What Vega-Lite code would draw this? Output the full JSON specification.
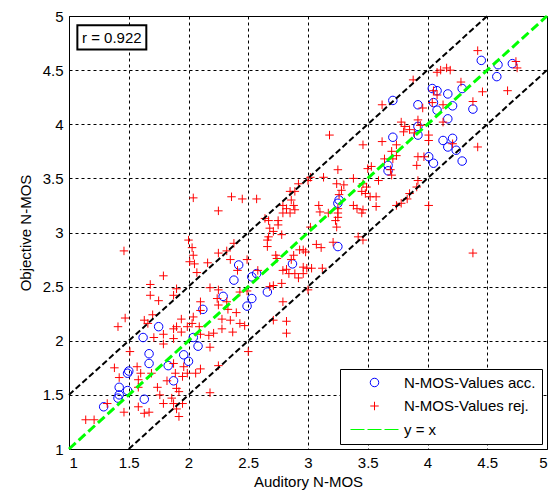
{
  "$schema": "https://vega.github.io/schema/vega-lite/v6.json",
  "width": 478,
  "height": 433,
  "autosize": {"type": "none"},
  "padding": {"left": 69, "top": 16, "right": 7, "bottom": 43},
  "background": "white",
  "datasets": {
    "pts": [
      {"x":1.29,"y":1.39,"s":"N-MOS-Values acc."},{"x":1.41,"y":1.47,"s":"N-MOS-Values acc."},{"x":1.42,"y":1.50,"s":"N-MOS-Values acc."},{"x":1.42,"y":1.57,"s":"N-MOS-Values acc."},{"x":1.49,"y":1.54,"s":"N-MOS-Values acc."},{"x":1.49,"y":1.70,"s":"N-MOS-Values acc."},{"x":1.50,"y":1.72,"s":"N-MOS-Values acc."},{"x":1.63,"y":1.46,"s":"N-MOS-Values acc."},{"x":1.62,"y":2.03,"s":"N-MOS-Values acc."},{"x":1.67,"y":1.88,"s":"N-MOS-Values acc."},{"x":1.67,"y":1.79,"s":"N-MOS-Values acc."},{"x":1.75,"y":2.13,"s":"N-MOS-Values acc."},{"x":1.83,"y":1.77,"s":"N-MOS-Values acc."},{"x":1.875,"y":1.63,"s":"N-MOS-Values acc."},{"x":1.96,"y":1.87,"s":"N-MOS-Values acc."},{"x":2.00,"y":1.81,"s":"N-MOS-Values acc."},{"x":2.04,"y":2.03,"s":"N-MOS-Values acc."},{"x":2.08,"y":1.95,"s":"N-MOS-Values acc."},{"x":2.12,"y":2.29,"s":"N-MOS-Values acc."},{"x":2.29,"y":2.41,"s":"N-MOS-Values acc."},{"x":2.38,"y":2.56,"s":"N-MOS-Values acc."},{"x":2.42,"y":2.70,"s":"N-MOS-Values acc."},{"x":2.49,"y":2.32,"s":"N-MOS-Values acc."},{"x":2.53,"y":2.39,"s":"N-MOS-Values acc."},{"x":2.53,"y":2.59,"s":"N-MOS-Values acc."},{"x":2.57,"y":2.62,"s":"N-MOS-Values acc."},{"x":2.66,"y":2.45,"s":"N-MOS-Values acc."},{"x":2.87,"y":2.71,"s":"N-MOS-Values acc."},{"x":3.25,"y":2.87,"s":"N-MOS-Values acc."},{"x":3.25,"y":3.27,"s":"N-MOS-Values acc."},{"x":3.26,"y":3.30,"s":"N-MOS-Values acc."},{"x":3.67,"y":3.57,"s":"N-MOS-Values acc."},{"x":3.67,"y":3.62,"s":"N-MOS-Values acc."},{"x":3.71,"y":3.88,"s":"N-MOS-Values acc."},{"x":3.92,"y":3.90,"s":"N-MOS-Values acc."},{"x":3.92,"y":3.98,"s":"N-MOS-Values acc."},{"x":3.71,"y":4.22,"s":"N-MOS-Values acc."},{"x":3.92,"y":4.18,"s":"N-MOS-Values acc."},{"x":4.01,"y":3.70,"s":"N-MOS-Values acc."},{"x":4.05,"y":3.64,"s":"N-MOS-Values acc."},{"x":4.04,"y":4.33,"s":"N-MOS-Values acc."},{"x":4.08,"y":4.31,"s":"N-MOS-Values acc."},{"x":4.05,"y":4.20,"s":"N-MOS-Values acc."},{"x":4.08,"y":4.13,"s":"N-MOS-Values acc."},{"x":4.17,"y":4.28,"s":"N-MOS-Values acc."},{"x":4.29,"y":4.33,"s":"N-MOS-Values acc."},{"x":4.21,"y":4.17,"s":"N-MOS-Values acc."},{"x":4.38,"y":4.14,"s":"N-MOS-Values acc."},{"x":4.17,"y":4.05,"s":"N-MOS-Values acc."},{"x":4.13,"y":3.85,"s":"N-MOS-Values acc."},{"x":4.21,"y":3.87,"s":"N-MOS-Values acc."},{"x":4.17,"y":3.79,"s":"N-MOS-Values acc."},{"x":4.24,"y":3.76,"s":"N-MOS-Values acc."},{"x":4.29,"y":3.66,"s":"N-MOS-Values acc."},{"x":4.45,"y":4.59,"s":"N-MOS-Values acc."},{"x":4.59,"y":4.55,"s":"N-MOS-Values acc."},{"x":4.58,"y":4.44,"s":"N-MOS-Values acc."},{"x":4.71,"y":4.56,"s":"N-MOS-Values acc."},
      {"x":1.14,"y":1.27,"s":"N-MOS-Values rej."},{"x":1.21,"y":1.27,"s":"N-MOS-Values rej."},{"x":1.32,"y":1.42,"s":"N-MOS-Values rej."},{"x":1.38,"y":1.75,"s":"N-MOS-Values rej."},{"x":1.41,"y":2.13,"s":"N-MOS-Values rej."},{"x":1.47,"y":2.21,"s":"N-MOS-Values rej."},{"x":1.46,"y":2.83,"s":"N-MOS-Values rej."},{"x":1.46,"y":1.34,"s":"N-MOS-Values rej."},{"x":1.51,"y":1.90,"s":"N-MOS-Values rej."},{"x":1.42,"y":1.66,"s":"N-MOS-Values rej."},{"x":1.57,"y":1.76,"s":"N-MOS-Values rej."},{"x":1.60,"y":1.70,"s":"N-MOS-Values rej."},{"x":1.58,"y":1.64,"s":"N-MOS-Values rej."},{"x":1.58,"y":1.57,"s":"N-MOS-Values rej."},{"x":1.58,"y":1.39,"s":"N-MOS-Values rej."},{"x":1.63,"y":1.33,"s":"N-MOS-Values rej."},{"x":1.67,"y":1.34,"s":"N-MOS-Values rej."},{"x":1.68,"y":2.52,"s":"N-MOS-Values rej."},{"x":1.68,"y":2.42,"s":"N-MOS-Values rej."},{"x":1.63,"y":2.19,"s":"N-MOS-Values rej."},{"x":1.66,"y":2.16,"s":"N-MOS-Values rej."},{"x":1.70,"y":2.24,"s":"N-MOS-Values rej."},{"x":1.75,"y":2.37,"s":"N-MOS-Values rej."},{"x":1.79,"y":2.60,"s":"N-MOS-Values rej."},{"x":1.79,"y":2.06,"s":"N-MOS-Values rej."},{"x":1.79,"y":1.97,"s":"N-MOS-Values rej."},{"x":1.71,"y":2.03,"s":"N-MOS-Values rej."},{"x":1.69,"y":1.70,"s":"N-MOS-Values rej."},{"x":1.74,"y":1.57,"s":"N-MOS-Values rej."},{"x":1.76,"y":1.50,"s":"N-MOS-Values rej."},{"x":1.79,"y":1.42,"s":"N-MOS-Values rej."},{"x":1.82,"y":1.63,"s":"N-MOS-Values rej."},{"x":1.875,"y":2.42,"s":"N-MOS-Values rej."},{"x":1.90,"y":2.48,"s":"N-MOS-Values rej."},{"x":1.875,"y":2.11,"s":"N-MOS-Values rej."},{"x":1.90,"y":2.13,"s":"N-MOS-Values rej."},{"x":1.875,"y":2.02,"s":"N-MOS-Values rej."},{"x":1.875,"y":1.79,"s":"N-MOS-Values rej."},{"x":1.89,"y":1.70,"s":"N-MOS-Values rej."},{"x":1.90,"y":1.56,"s":"N-MOS-Values rej."},{"x":1.86,"y":1.47,"s":"N-MOS-Values rej."},{"x":1.875,"y":1.42,"s":"N-MOS-Values rej."},{"x":1.94,"y":2.20,"s":"N-MOS-Values rej."},{"x":1.94,"y":2.08,"s":"N-MOS-Values rej."},{"x":1.99,"y":2.13,"s":"N-MOS-Values rej."},{"x":1.95,"y":1.67,"s":"N-MOS-Values rej."},{"x":1.99,"y":1.70,"s":"N-MOS-Values rej."},{"x":1.96,"y":1.76,"s":"N-MOS-Values rej."},{"x":1.95,"y":1.42,"s":"N-MOS-Values rej."},{"x":1.92,"y":1.53,"s":"N-MOS-Values rej."},{"x":1.90,"y":1.37,"s":"N-MOS-Values rej."},{"x":1.92,"y":1.30,"s":"N-MOS-Values rej."},
      {"x":2.00,"y":2.93,"s":"N-MOS-Values rej."},{"x":2.03,"y":2.86,"s":"N-MOS-Values rej."},{"x":2.04,"y":2.79,"s":"N-MOS-Values rej."},{"x":2.01,"y":2.73,"s":"N-MOS-Values rej."},{"x":2.05,"y":2.71,"s":"N-MOS-Values rej."},{"x":2.04,"y":2.22,"s":"N-MOS-Values rej."},{"x":2.03,"y":2.16,"s":"N-MOS-Values rej."},{"x":2.07,"y":2.63,"s":"N-MOS-Values rej."},{"x":2.10,"y":2.28,"s":"N-MOS-Values rej."},{"x":2.10,"y":2.36,"s":"N-MOS-Values rej."},{"x":2.09,"y":2.13,"s":"N-MOS-Values rej."},{"x":2.10,"y":2.06,"s":"N-MOS-Values rej."},{"x":2.10,"y":1.74,"s":"N-MOS-Values rej."},{"x":2.17,"y":2.05,"s":"N-MOS-Values rej."},{"x":2.18,"y":1.94,"s":"N-MOS-Values rej."},{"x":2.16,"y":2.72,"s":"N-MOS-Values rej."},{"x":2.18,"y":1.52,"s":"N-MOS-Values rej."},{"x":2.18,"y":2.49,"s":"N-MOS-Values rej."},{"x":2.25,"y":2.81,"s":"N-MOS-Values rej."},{"x":2.25,"y":1.77,"s":"N-MOS-Values rej."},{"x":2.28,"y":2.11,"s":"N-MOS-Values rej."},{"x":2.28,"y":2.20,"s":"N-MOS-Values rej."},{"x":2.32,"y":2.83,"s":"N-MOS-Values rej."},{"x":2.35,"y":2.75,"s":"N-MOS-Values rej."},{"x":2.33,"y":2.29,"s":"N-MOS-Values rej."},{"x":2.35,"y":2.19,"s":"N-MOS-Values rej."},{"x":2.37,"y":2.08,"s":"N-MOS-Values rej."},{"x":2.41,"y":2.65,"s":"N-MOS-Values rej."},{"x":2.43,"y":2.45,"s":"N-MOS-Values rej."},{"x":2.40,"y":2.26,"s":"N-MOS-Values rej."},{"x":2.43,"y":2.16,"s":"N-MOS-Values rej."},{"x":2.47,"y":2.14,"s":"N-MOS-Values rej."},{"x":2.49,"y":2.75,"s":"N-MOS-Values rej."},{"x":2.50,"y":1.90,"s":"N-MOS-Values rej."},{"x":2.49,"y":2.46,"s":"N-MOS-Values rej."},{"x":2.04,"y":3.32,"s":"N-MOS-Values rej."},{"x":2.25,"y":3.20,"s":"N-MOS-Values rej."},{"x":2.36,"y":3.33,"s":"N-MOS-Values rej."},{"x":2.45,"y":3.31,"s":"N-MOS-Values rej."},{"x":2.38,"y":2.90,"s":"N-MOS-Values rej."},{"x":2.25,"y":2.33,"s":"N-MOS-Values rej."},{"x":2.24,"y":2.39,"s":"N-MOS-Values rej."},{"x":2.25,"y":2.47,"s":"N-MOS-Values rej."},{"x":2.32,"y":2.36,"s":"N-MOS-Values rej."},{"x":2.21,"y":2.07,"s":"N-MOS-Values rej."},{"x":2.06,"y":1.70,"s":"N-MOS-Values rej."},
      {"x":2.57,"y":3.31,"s":"N-MOS-Values rej."},{"x":2.58,"y":2.65,"s":"N-MOS-Values rej."},{"x":2.66,"y":2.87,"s":"N-MOS-Values rej."},{"x":2.66,"y":2.93,"s":"N-MOS-Values rej."},{"x":2.71,"y":2.51,"s":"N-MOS-Values rej."},{"x":2.68,"y":2.50,"s":"N-MOS-Values rej."},{"x":2.78,"y":2.53,"s":"N-MOS-Values rej."},{"x":2.78,"y":2.98,"s":"N-MOS-Values rej."},{"x":2.73,"y":2.79,"s":"N-MOS-Values rej."},{"x":2.74,"y":2.76,"s":"N-MOS-Values rej."},{"x":2.79,"y":2.65,"s":"N-MOS-Values rej."},{"x":2.82,"y":2.66,"s":"N-MOS-Values rej."},{"x":2.84,"y":2.62,"s":"N-MOS-Values rej."},{"x":2.86,"y":2.75,"s":"N-MOS-Values rej."},{"x":2.88,"y":2.79,"s":"N-MOS-Values rej."},{"x":2.96,"y":2.84,"s":"N-MOS-Values rej."},{"x":2.98,"y":2.82,"s":"N-MOS-Values rej."},{"x":2.93,"y":2.84,"s":"N-MOS-Values rej."},{"x":2.96,"y":2.68,"s":"N-MOS-Values rej."},{"x":2.99,"y":2.67,"s":"N-MOS-Values rej."},{"x":2.96,"y":2.62,"s":"N-MOS-Values rej."},{"x":2.89,"y":2.62,"s":"N-MOS-Values rej."},{"x":2.92,"y":2.58,"s":"N-MOS-Values rej."},{"x":2.79,"y":2.36,"s":"N-MOS-Values rej."},{"x":2.71,"y":2.19,"s":"N-MOS-Values rej."},{"x":2.82,"y":2.18,"s":"N-MOS-Values rej."},{"x":2.82,"y":2.07,"s":"N-MOS-Values rej."},{"x":3.00,"y":2.47,"s":"N-MOS-Values rej."},{"x":2.67,"y":3.11,"s":"N-MOS-Values rej."},{"x":2.64,"y":3.13,"s":"N-MOS-Values rej."},{"x":2.75,"y":3.11,"s":"N-MOS-Values rej."},{"x":2.68,"y":3.04,"s":"N-MOS-Values rej."},{"x":2.71,"y":3.01,"s":"N-MOS-Values rej."},{"x":2.67,"y":2.96,"s":"N-MOS-Values rej."},{"x":2.75,"y":3.07,"s":"N-MOS-Values rej."},{"x":2.79,"y":3.18,"s":"N-MOS-Values rej."},{"x":2.82,"y":3.22,"s":"N-MOS-Values rej."},{"x":2.79,"y":3.25,"s":"N-MOS-Values rej."},{"x":2.86,"y":3.30,"s":"N-MOS-Values rej."},{"x":2.88,"y":3.25,"s":"N-MOS-Values rej."},{"x":2.85,"y":3.18,"s":"N-MOS-Values rej."},{"x":2.85,"y":3.38,"s":"N-MOS-Values rej."},{"x":2.89,"y":3.38,"s":"N-MOS-Values rej."},{"x":2.92,"y":3.45,"s":"N-MOS-Values rej."},{"x":2.89,"y":3.21,"s":"N-MOS-Values rej."},{"x":3.00,"y":3.48,"s":"N-MOS-Values rej."},
      {"x":3.03,"y":2.67,"s":"N-MOS-Values rej."},{"x":3.07,"y":2.89,"s":"N-MOS-Values rej."},{"x":3.11,"y":2.86,"s":"N-MOS-Values rej."},{"x":3.12,"y":2.67,"s":"N-MOS-Values rej."},{"x":3.46,"y":2.93,"s":"N-MOS-Values rej."},{"x":3.42,"y":2.96,"s":"N-MOS-Values rej."},{"x":3.21,"y":2.91,"s":"N-MOS-Values rej."},{"x":3.18,"y":3.90,"s":"N-MOS-Values rej."},{"x":3.02,"y":3.51,"s":"N-MOS-Values rej."},{"x":3.13,"y":3.51,"s":"N-MOS-Values rej."},{"x":3.25,"y":3.58,"s":"N-MOS-Values rej."},{"x":3.24,"y":3.45,"s":"N-MOS-Values rej."},{"x":3.30,"y":3.44,"s":"N-MOS-Values rej."},{"x":3.28,"y":3.39,"s":"N-MOS-Values rej."},{"x":3.26,"y":3.35,"s":"N-MOS-Values rej."},{"x":3.09,"y":3.25,"s":"N-MOS-Values rej."},{"x":3.10,"y":3.19,"s":"N-MOS-Values rej."},{"x":3.17,"y":3.18,"s":"N-MOS-Values rej."},{"x":3.02,"y":3.05,"s":"N-MOS-Values rej."},{"x":3.23,"y":3.11,"s":"N-MOS-Values rej."},{"x":3.24,"y":3.05,"s":"N-MOS-Values rej."},{"x":3.25,"y":3.22,"s":"N-MOS-Values rej."},{"x":3.25,"y":3.18,"s":"N-MOS-Values rej."},{"x":3.25,"y":3.14,"s":"N-MOS-Values rej."},{"x":3.38,"y":3.50,"s":"N-MOS-Values rej."},{"x":3.38,"y":3.25,"s":"N-MOS-Values rej."},{"x":3.41,"y":3.22,"s":"N-MOS-Values rej."},{"x":3.46,"y":3.21,"s":"N-MOS-Values rej."},{"x":3.45,"y":3.18,"s":"N-MOS-Values rej."},{"x":3.46,"y":3.45,"s":"N-MOS-Values rej."},{"x":3.49,"y":3.42,"s":"N-MOS-Values rej."},{"x":3.45,"y":3.38,"s":"N-MOS-Values rej."},{"x":3.48,"y":3.36,"s":"N-MOS-Values rej."},{"x":3.46,"y":3.81,"s":"N-MOS-Values rej."},
      {"x":3.52,"y":3.33,"s":"N-MOS-Values rej."},{"x":3.57,"y":3.33,"s":"N-MOS-Values rej."},{"x":3.59,"y":3.48,"s":"N-MOS-Values rej."},{"x":3.57,"y":3.24,"s":"N-MOS-Values rej."},{"x":3.53,"y":3.61,"s":"N-MOS-Values rej."},{"x":3.50,"y":3.59,"s":"N-MOS-Values rej."},{"x":3.62,"y":3.84,"s":"N-MOS-Values rej."},{"x":3.62,"y":4.18,"s":"N-MOS-Values rej."},{"x":3.64,"y":3.68,"s":"N-MOS-Values rej."},{"x":3.70,"y":3.75,"s":"N-MOS-Values rej."},{"x":3.74,"y":3.71,"s":"N-MOS-Values rej."},{"x":3.71,"y":3.68,"s":"N-MOS-Values rej."},{"x":3.69,"y":3.58,"s":"N-MOS-Values rej."},{"x":3.70,"y":3.53,"s":"N-MOS-Values rej."},{"x":3.74,"y":3.81,"s":"N-MOS-Values rej."},{"x":3.74,"y":3.25,"s":"N-MOS-Values rej."},{"x":3.78,"y":3.27,"s":"N-MOS-Values rej."},{"x":3.83,"y":3.31,"s":"N-MOS-Values rej."},{"x":3.85,"y":3.36,"s":"N-MOS-Values rej."},{"x":3.91,"y":3.42,"s":"N-MOS-Values rej."},{"x":3.92,"y":3.48,"s":"N-MOS-Values rej."},{"x":3.78,"y":4.02,"s":"N-MOS-Values rej."},{"x":3.81,"y":3.98,"s":"N-MOS-Values rej."},{"x":3.80,"y":3.93,"s":"N-MOS-Values rej."},{"x":3.85,"y":3.95,"s":"N-MOS-Values rej."},{"x":3.92,"y":4.04,"s":"N-MOS-Values rej."},{"x":3.94,"y":3.99,"s":"N-MOS-Values rej."},{"x":3.89,"y":3.92,"s":"N-MOS-Values rej."},{"x":3.88,"y":4.41,"s":"N-MOS-Values rej."},{"x":3.96,"y":4.15,"s":"N-MOS-Values rej."},{"x":3.92,"y":3.70,"s":"N-MOS-Values rej."},{"x":3.91,"y":3.62,"s":"N-MOS-Values rej."},{"x":3.97,"y":3.70,"s":"N-MOS-Values rej."},
      {"x":4.01,"y":3.90,"s":"N-MOS-Values rej."},{"x":4.01,"y":3.85,"s":"N-MOS-Values rej."},{"x":4.01,"y":3.25,"s":"N-MOS-Values rej."},{"x":4.05,"y":4.31,"s":"N-MOS-Values rej."},{"x":4.08,"y":4.27,"s":"N-MOS-Values rej."},{"x":4.04,"y":4.20,"s":"N-MOS-Values rej."},{"x":4.08,"y":4.48,"s":"N-MOS-Values rej."},{"x":4.11,"y":4.50,"s":"N-MOS-Values rej."},{"x":4.16,"y":4.52,"s":"N-MOS-Values rej."},{"x":4.19,"y":4.50,"s":"N-MOS-Values rej."},{"x":4.13,"y":4.18,"s":"N-MOS-Values rej."},{"x":4.13,"y":4.02,"s":"N-MOS-Values rej."},{"x":4.21,"y":3.82,"s":"N-MOS-Values rej."},{"x":4.28,"y":4.39,"s":"N-MOS-Values rej."},{"x":4.38,"y":4.21,"s":"N-MOS-Values rej."},{"x":4.42,"y":4.68,"s":"N-MOS-Values rej."},{"x":4.46,"y":4.30,"s":"N-MOS-Values rej."},{"x":4.42,"y":3.79,"s":"N-MOS-Values rej."},{"x":4.38,"y":2.81,"s":"N-MOS-Values rej."},{"x":4.67,"y":4.31,"s":"N-MOS-Values rej."},{"x":4.74,"y":4.58,"s":"N-MOS-Values rej."},{"x":4.75,"y":4.52,"s":"N-MOS-Values rej."}
    ],
    "bounds": [
      {"x":1,"y":1.5,"g":"upper"},{"x":4.5,"y":5,"g":"upper"},
      {"x":1.5,"y":1,"g":"lower"},{"x":5,"y":4.5,"g":"lower"}
    ],
    "ident": [
      {"x":1,"y":1},{"x":5,"y":5}
    ],
    "note": [
      {"label":"r = 0.922"}
    ]
  },
  "layer": [
    {
      "data": {"name": "pts"},
      "mark": {"type": "point", "filled": false, "size": 72, "opacity": 1},
      "encoding": {
        "x": {"field": "x", "type": "quantitative", "scale": {"domain": [1, 5], "nice": false, "zero": false}, "axis": {"title": "Auditory N-MOS", "values": [1,1.5,2,2.5,3,3.5,4,4.5,5], "format": "~g", "titlePadding": 4}},
        "y": {"field": "y", "type": "quantitative", "scale": {"domain": [1, 5], "nice": false, "zero": false}, "axis": {"title": "Objective N-MOS", "values": [1,1.5,2,2.5,3,3.5,4,4.5,5], "format": "~g", "titlePadding": 9}},
        "color": {"field": "s", "type": "nominal", "scale": {"domain": ["N-MOS-Values acc.", "N-MOS-Values rej.", "y = x"], "range": ["#0000ff", "#ff0000", "#00ff00"]}},
        "shape": {"field": "s", "type": "nominal", "scale": {"domain": ["N-MOS-Values acc.", "N-MOS-Values rej.", "y = x"], "range": ["circle", "M-1,0L1,0M0,-1L0,1", "M-5.66,0L-2.36,0M-1.65,0L1.65,0M2.36,0L5.66,0"]}},
        "strokeWidth": {"field": "s", "type": "nominal", "scale": {"domain": ["N-MOS-Values acc.", "N-MOS-Values rej.", "y = x"], "range": [1, 1, 3]}}
      }
    },
    {
      "data": {"name": "ident"},
      "mark": {"type": "line", "color": "#00ff00", "strokeWidth": 3, "strokeDash": [9, 4]},
      "encoding": {
        "x": {"field": "x", "type": "quantitative"},
        "y": {"field": "y", "type": "quantitative"}
      }
    },
    {
      "data": {"name": "bounds"},
      "mark": {"type": "line", "color": "black", "strokeWidth": 2, "strokeDash": [6, 3]},
      "encoding": {
        "x": {"field": "x", "type": "quantitative"},
        "y": {"field": "y", "type": "quantitative"},
        "detail": {"field": "g"}
      }
    },
    {
      "data": {"name": "note"},
      "mark": {"type": "rect", "fill": "white", "stroke": "black", "strokeWidth": 2},
      "encoding": {
        "x": {"datum": 1.07, "type": "quantitative"},
        "x2": {"datum": 1.647},
        "y": {"datum": 4.69, "type": "quantitative"},
        "y2": {"datum": 4.915}
      }
    },
    {
      "data": {"name": "note"},
      "mark": {"type": "text", "font": "Liberation Sans", "fontSize": 15, "color": "black", "align": "center", "baseline": "middle"},
      "encoding": {
        "x": {"datum": 1.358, "type": "quantitative"},
        "y": {"datum": 4.80, "type": "quantitative"},
        "text": {"field": "label"}
      }
    }
  ],
  "config": {
    "font": "Liberation Sans",
    "view": {"stroke": "black", "strokeWidth": 1},
    "axis": {"grid": true, "gridColor": "black", "gridDash": [3, 3], "gridOpacity": 1, "gridWidth": 1, "ticks": false, "domain": false, "labelFont": "Liberation Sans", "labelFontSize": 15, "labelColor": "black", "titleFont": "Liberation Sans", "titleFontSize": 15, "titleFontWeight": "normal", "titleColor": "black", "labelPadding": 6},
    "legend": {"title": null, "orient": "bottom-right", "offset": 5, "padding": 6, "rowPadding": 7.5, "strokeColor": "black", "fillColor": "white", "labelFont": "Liberation Sans", "labelFontSize": 15, "labelColor": "black", "symbolSize": 72, "symbolOffset": 21, "labelOffset": 22, "cornerRadius": 0}
  }
}
